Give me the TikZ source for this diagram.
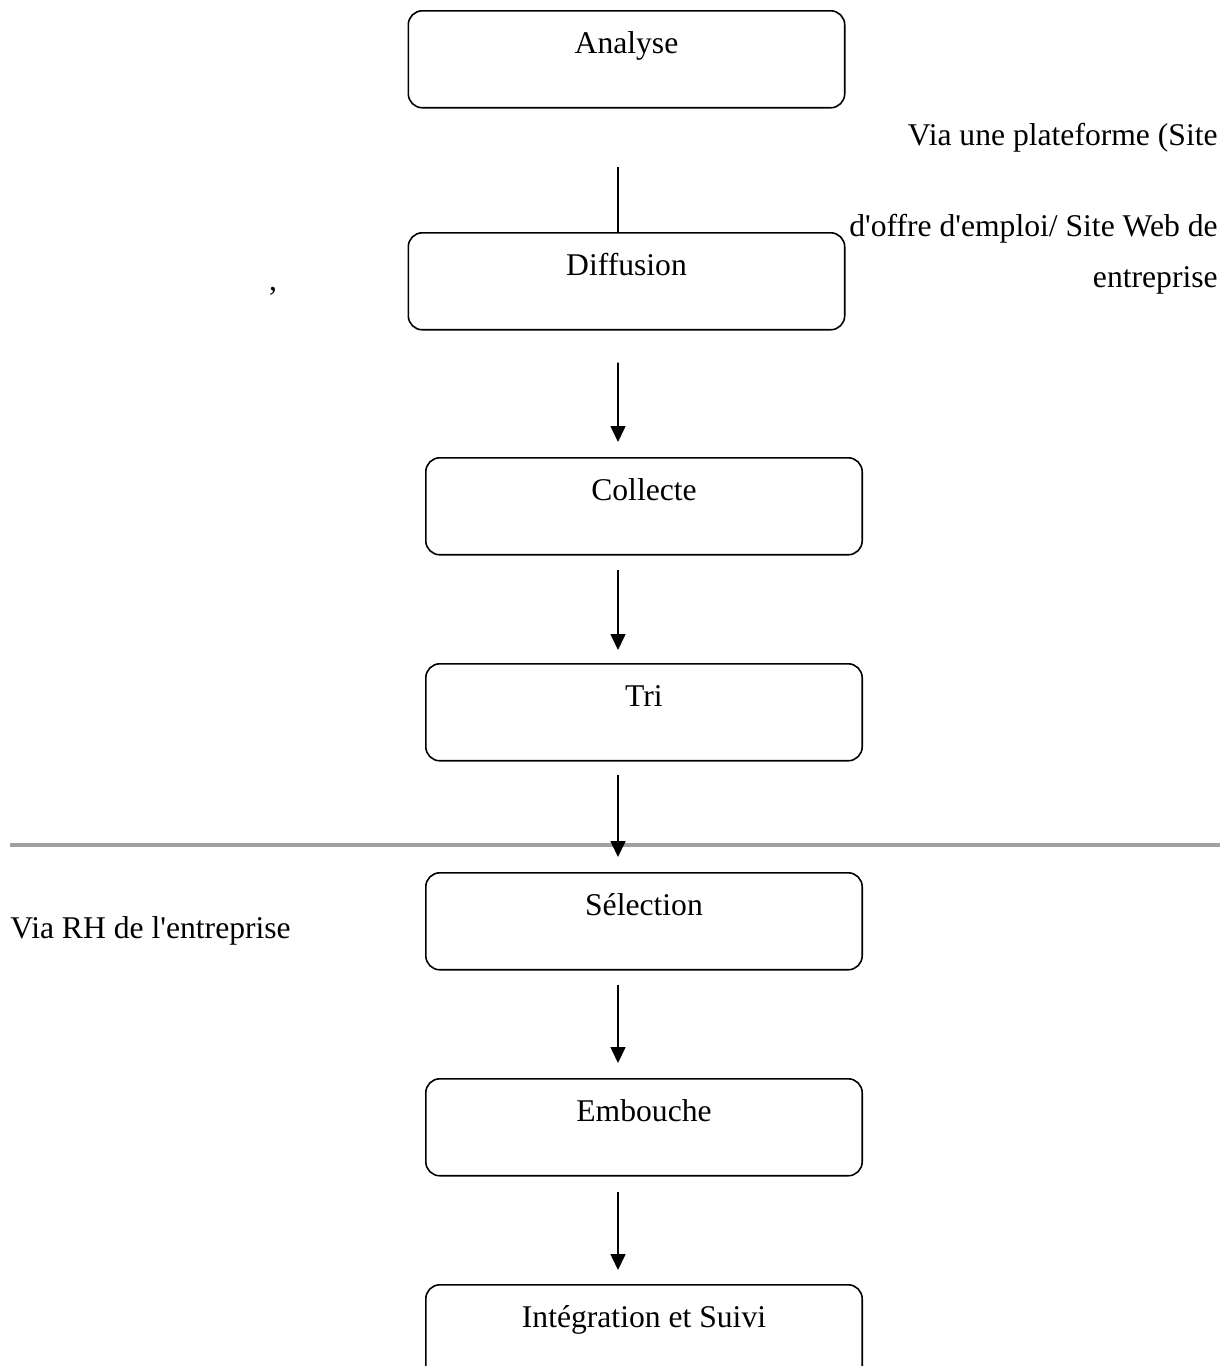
\documentclass[tikz,border=0pt]{standalone}
\usepackage{fontspec}
\setmainfont{Liberation Serif}
\usetikzlibrary{arrows.meta, positioning, calc}
\definecolor{sepgray}{RGB}{160, 160, 160}

\tikzset{
  etape/.style={draw, line width=0.9pt, rounded corners=8pt, minimum width=8.73cm,
    inner sep=0pt, text height=0.86cm, text depth=1.08cm, font=\fontsize{18}{22}\selectfont},
  fleche/.style={line width=0.9pt, -{Triangle[length=0.32cm, width=0.3cm]}},
  texte/.style={inner sep=0pt, font=\fontsize{18}{22}\selectfont}
}

\begin{document}
\begin{tikzpicture}[x=0.02cm, y=-0.02cm]
  \useasboundingbox (0,0) rectangle (1229,1366);

  % The steps
  \node[etape] (analyse) at (626.5, 10) [anchor=north] {Analyse};
  \node[etape] (diffusion) at (626.5, 232) [anchor=north] {Diffusion};
  \node[etape] (collecte) at (644, 457) [anchor=north] {Collecte};
  \node[etape] (tri) at (644, 663) [anchor=north] {Tri};
  \node[etape] (selection) at (644, 872) [anchor=north] {Sélection};
  \node[etape] (embouche) at (644, 1078) [anchor=north] {Embouche};
  \node[etape] (integration) at (644, 1284) [anchor=north] {Intégration et Suivi};

  % Side notes
  \node[texte, anchor=base east] (plateforme1) at (1218, 145) {Via une plateforme (Site};
  \node[texte, anchor=base east] (plateforme2) at (1218, 236) {d\textquotesingle offre d\textquotesingle emploi/ Site Web de};
  \node[texte, anchor=base east] (plateforme3) at (1218, 287) {entreprise};
  \node[texte, anchor=base] (virgule) at (273, 290) {,};
  \node[texte, anchor=base west] (rh) at (10, 938) {Via RH de l\textquotesingle entreprise};

  % Separator
  \draw[sepgray, line width=2pt] (10, 845) -- (1220, 845);

  % Connectors
  \coordinate (haut) at (618, 167);
  \draw[line width=0.9pt] (haut) -- ([xshift=-0.17cm]diffusion.north);
  \draw[fleche, shorten >=0.3cm] ([xshift=-0.17cm, yshift=-0.64cm]diffusion.south) -- ([xshift=-0.52cm]collecte.north);
  \draw[fleche, shorten >=0.26cm] ([xshift=-0.52cm, yshift=-0.28cm]collecte.south) -- ([xshift=-0.52cm]tri.north);
  \draw[fleche, shorten >=0.3cm] ([xshift=-0.52cm, yshift=-0.26cm]tri.south) -- ([xshift=-0.52cm]selection.north);
  \draw[fleche, shorten >=0.3cm] ([xshift=-0.52cm, yshift=-0.28cm]selection.south) -- ([xshift=-0.52cm]embouche.north);
  \draw[fleche, shorten >=0.28cm] ([xshift=-0.52cm, yshift=-0.3cm]embouche.south) -- ([xshift=-0.52cm]integration.north);
\end{tikzpicture}
\end{document}
